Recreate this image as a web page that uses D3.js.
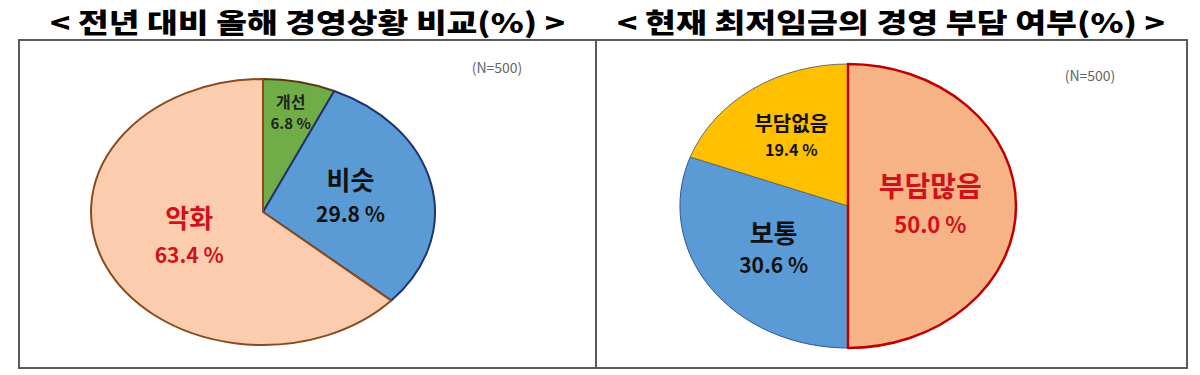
<!DOCTYPE html>
<html>
<head>
<meta charset="utf-8">
<script src="https://cdn.jsdelivr.net/npm/d3@7"></script>
<style>
  body { margin: 0; background: #fff; }
  text { font-family: "Noto Sans CJK KR", "Noto Sans", sans-serif; }
</style>
</head>
<body>
<svg id="chart"></svg>
<script>
// ---- data ----
let leftTitle = '< 전년 대비 올해 경영상황 비교(%) >'
let leftCats = ['개선', '비슷', '악화']
let leftValues = [6.8, 29.8, 63.4]

let rightTitle = '< 현재 최저임금의 경영 부담 여부(%) >'
let rightCats = ['부담많음', '보통', '부담없음']
let rightValues = [50.0, 30.6, 19.4]

let sampleNote = '(N=500)'

// ---- layout / style ----
let width = 1200
let height = 375

let svg = d3.select('#chart')
  .attr('width', width)
  .attr('height', height)

// outer frame and divider
svg.append('rect')
  .attr('x', 19).attr('y', 40)
  .attr('width', 1168).attr('height', 328)
  .attr('fill', 'none').attr('stroke', '#5a5a5a').attr('stroke-width', 2)
svg.append('line')
  .attr('x1', 596).attr('x2', 596).attr('y1', 40).attr('y2', 368)
  .attr('stroke', '#5a5a5a').attr('stroke-width', 2)

let leftChart = {
  title: leftTitle, titleX: 50, titleW: 515,
  cats: leftCats, values: leftValues,
  cx: 263, cy: 212, rx: 172, ry: 133,
  fills: ['#70ad47', '#5b9bd5', '#fbcdae'],
  strokes: ['#5a3a12', '#1f3470', '#8a4a1a'],
  strokeW: [2, 2, 2],
  drawOrder: [0, 1, 2],
  labelR: [0.76, 0.52, 0.47],
  labelColor: ['#222', '#111', '#d0101a'],
  nameSize: [16, 26, 26],
  valSize: [15, 21, 21],
  lineGap: [22, 33, 37],
  noteX: 497, noteY: 73
}

let rightChart = {
  title: rightTitle, titleX: 617, titleW: 548,
  cats: rightCats, values: rightValues,
  cx: 848, cy: 206, rx: 168, ry: 142,
  fills: ['#f6b486', '#5b9bd5', '#ffc000'],
  strokes: ['#c00000', '#2f5597', '#6b6b6b'],
  strokeW: [2.5, 1, 1],
  drawOrder: [1, 2, 0],
  labelR: [0.49, 0.54, 0.59],
  labelColor: ['#d0101a', '#111', '#111'],
  nameSize: [28, 26, 20],
  valSize: [22, 21, 16],
  lineGap: [38, 32, 27],
  noteX: 1090, noteY: 81
}

let drawChart = (c) => {
  // title
  svg.append('text')
    .attr('x', c.titleX).attr('y', 33)
    .attr('textLength', c.titleW)
    .attr('lengthAdjust', 'spacingAndGlyphs')
    .attr('font-size', 27)
    .attr('font-weight', 900)
    .attr('fill', '#000')
    .text(c.title)

  let pie = d3.pie().sort(null).value(d => d)
  let arcs = pie(c.values)
  let arc = d3.arc().innerRadius(0).outerRadius(1)

  let g = svg.append('g')
    .attr('transform', 'translate(' + c.cx + ',' + c.cy + ')')

  // ellipse pie: unit arcs scaled to rx, ry
  g.append('g')
    .attr('transform', 'scale(' + c.rx + ',' + c.ry + ')')
    .selectAll('path')
    .data(c.drawOrder.map(i => ({ d: arcs[i], i: i })))
    .enter()
    .append('path')
    .attr('d', o => arc(o.d))
    .attr('fill', o => c.fills[o.i])
    .attr('stroke', o => c.strokes[o.i])
    .attr('stroke-width', o => c.strokeW[o.i])
    .attr('stroke-linejoin', 'round')
    .attr('vector-effect', 'non-scaling-stroke')

  // labels
  arcs.forEach((d, i) => {
    let a = (d.startAngle + d.endAngle) / 2
    let x = c.rx * c.labelR[i] * Math.sin(a)
    let y = -c.ry * c.labelR[i] * Math.cos(a)
    let t = g.append('text')
      .attr('text-anchor', 'middle')
      .attr('font-weight', 'bold')
      .attr('fill', c.labelColor[i])
    t.append('tspan')
      .attr('x', x).attr('y', y - c.lineGap[i] / 2 + c.nameSize[i] * 0.35)
      .attr('font-size', c.nameSize[i])
      .text(c.cats[i])
    t.append('tspan')
      .attr('x', x).attr('y', y + c.lineGap[i] / 2 + c.valSize[i] * 0.35)
      .attr('font-size', c.valSize[i])
      .text(d3.format('.1f')(c.values[i]) + ' %')
  })

  svg.append('text')
    .attr('x', c.noteX).attr('y', c.noteY)
    .attr('text-anchor', 'middle')
    .attr('font-size', 14)
    .attr('fill', '#666')
    .text(sampleNote)
}

drawChart(leftChart)
drawChart(rightChart)
</script>
</body>
</html>
